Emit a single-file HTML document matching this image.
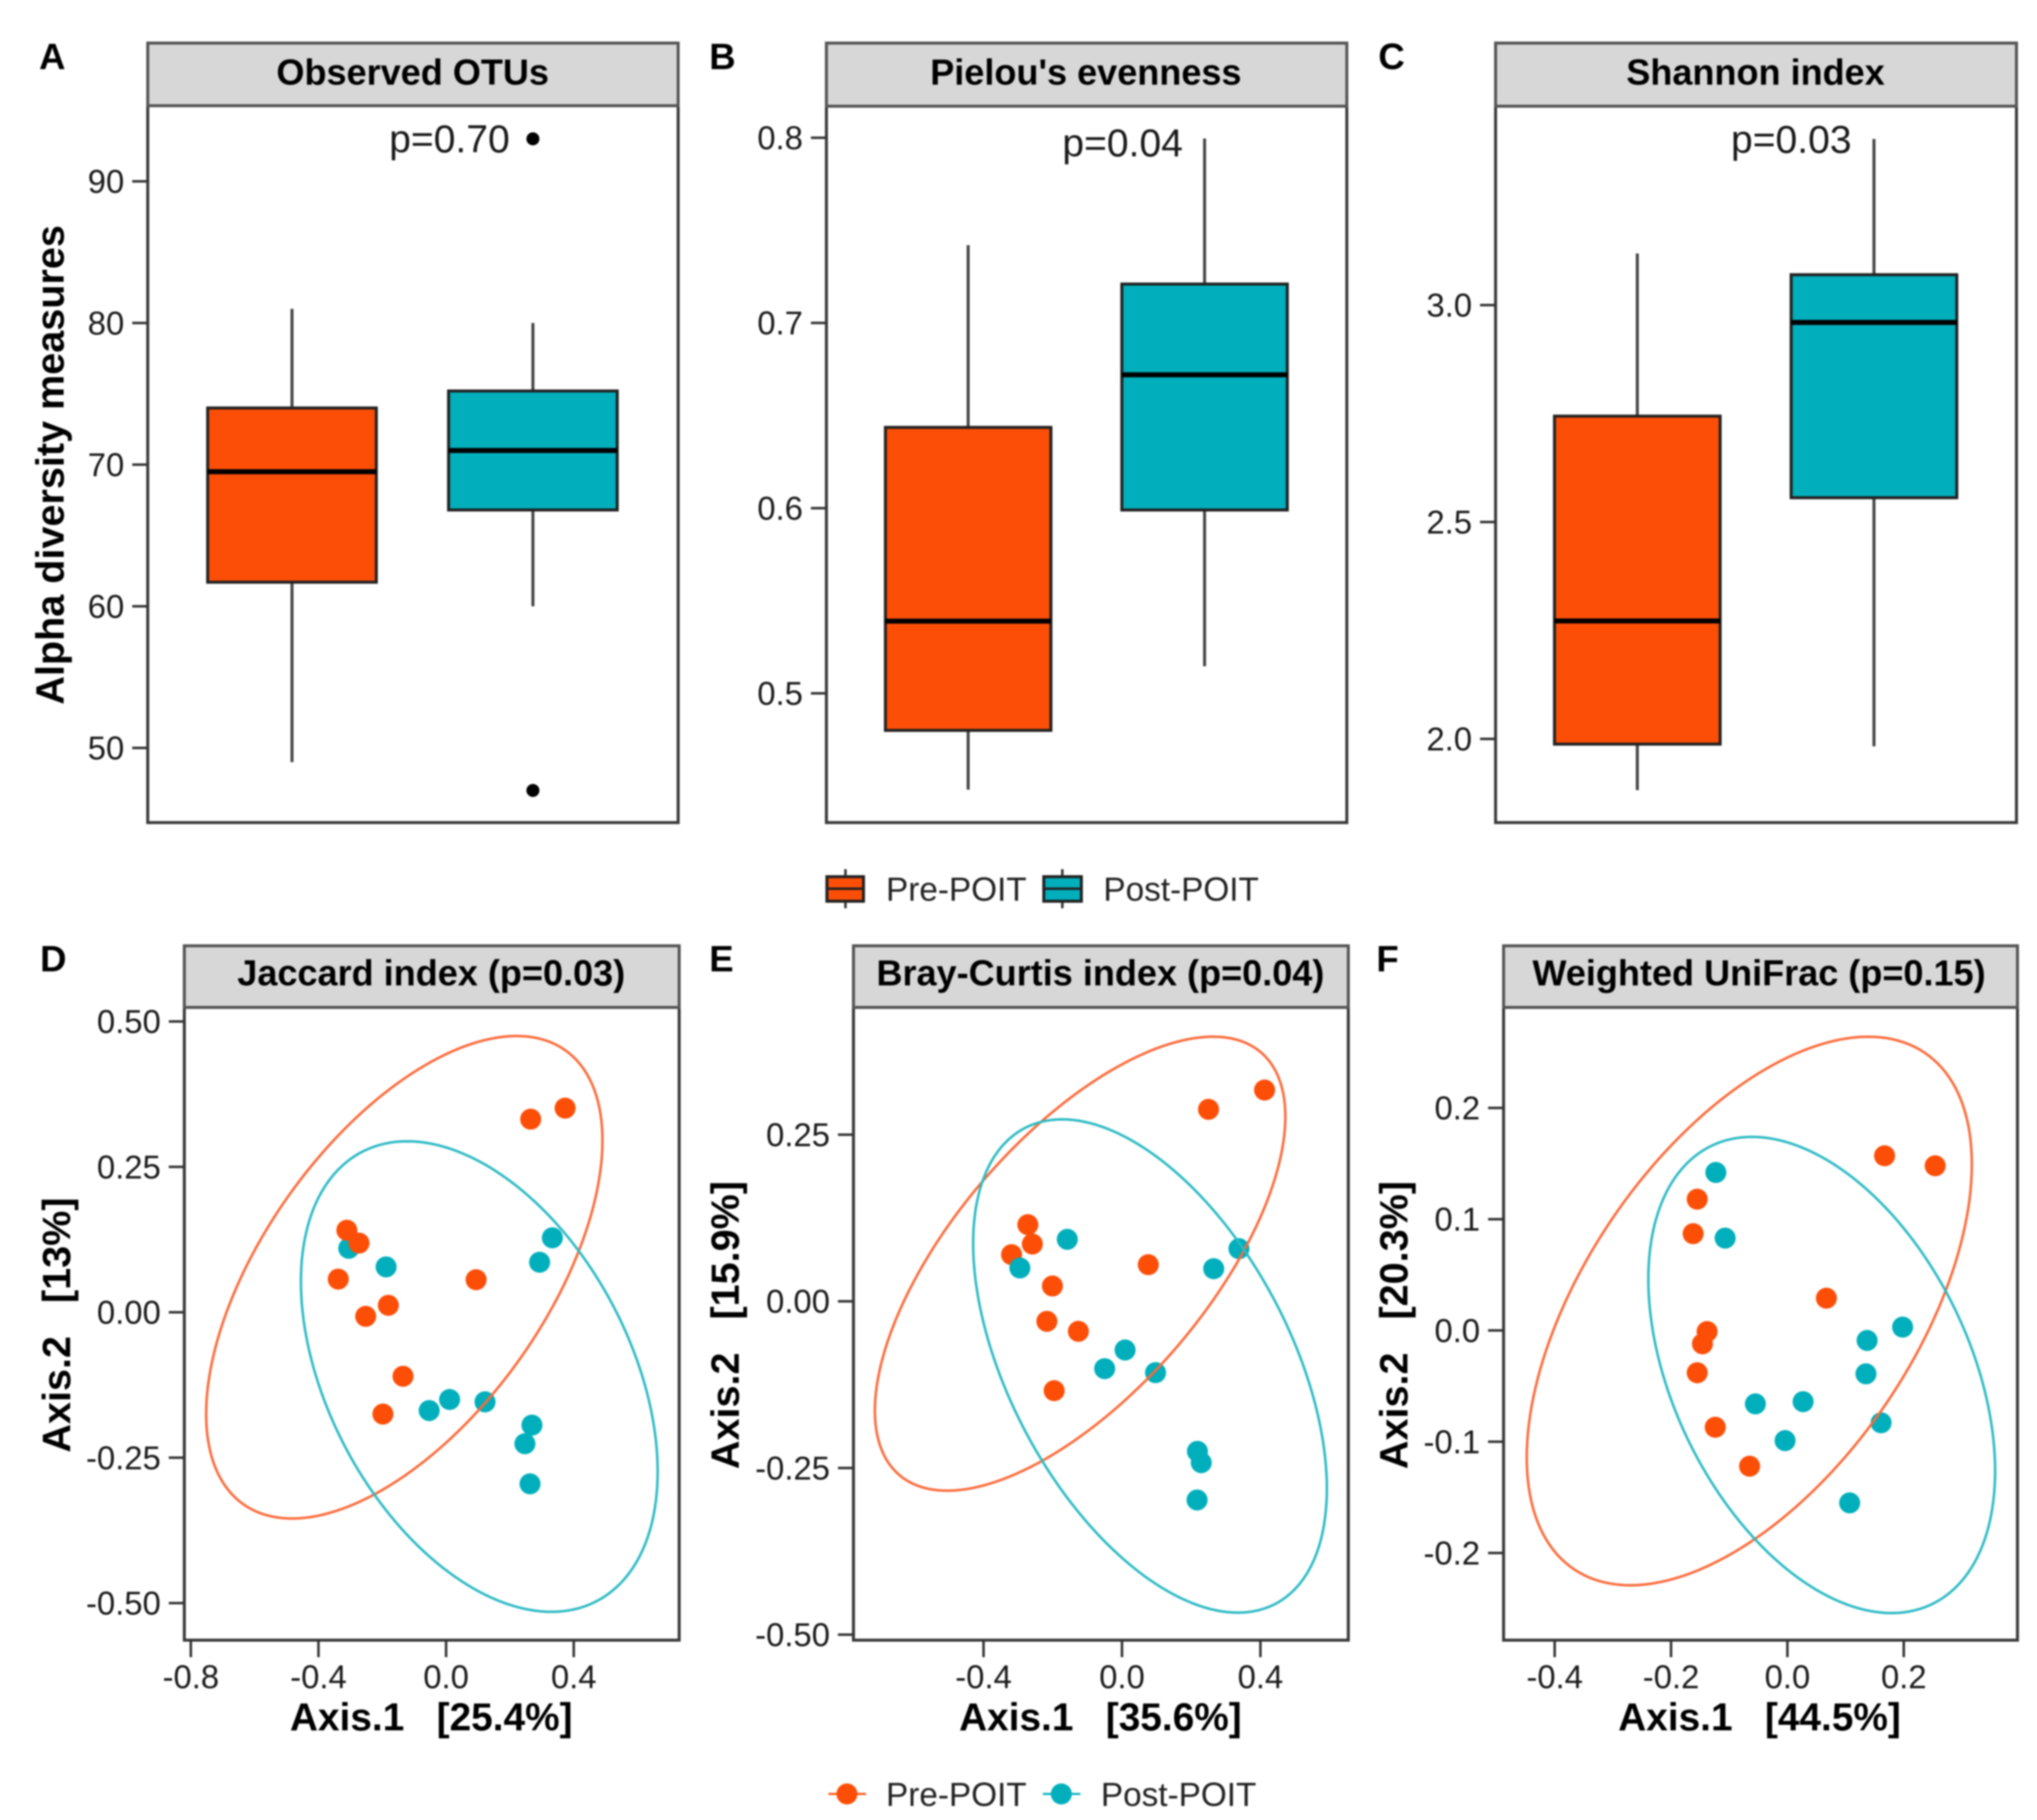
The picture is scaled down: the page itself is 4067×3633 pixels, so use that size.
<!DOCTYPE html>
<html lang="en">
<head>
<meta charset="utf-8">
<title>Alpha and beta diversity, Pre-POIT vs Post-POIT</title>
<style>
html,body{margin:0;padding:0;background:#fff;}
svg{display:block;filter:blur(1.5px);}
text{font-family:"Liberation Sans",sans-serif;fill:#1a1a1a;}
.bold{font-weight:bold;fill:#000;}
.strip{fill:#d7d7d7;stroke:#555;stroke-width:6;}
.frame{fill:#fff;stroke:#3a3a3a;stroke-width:6;}
.strip-text{font-size:72px;font-weight:bold;text-anchor:middle;fill:#000;}
.letter{font-size:73px;font-weight:bold;fill:#000;}
.ptext{font-size:78px;fill:#1a1a1a;}
.axis-title{font-size:77.5px;font-weight:bold;text-anchor:middle;fill:#000;}
.axis-title-y{font-size:79px;}
.legend-text{font-size:66.5px;fill:#222;}
</style>
</head>
<body>
<svg xmlns="http://www.w3.org/2000/svg" width="4067" height="3633" viewBox="0 0 4067 3633">
  <rect x="0" y="0" width="4067" height="3633" fill="#fff"/>

  <!-- Panel frames and strips -->
  <g>
    <rect class="frame" x="295" y="211" width="1059" height="1431"/>
    <rect class="strip" x="295" y="86" width="1059" height="125"/>
    <text class="strip-text" x="824" y="169">Observed OTUs</text>
    <text class="letter" x="78" y="138">A</text>
    <text class="axis-title axis-title-y" transform="translate(127,928) rotate(-90)">Alpha diversity measures</text>
    <g id="marks-a"></g>
    <text class="ptext" x="777" y="304">p=0.70</text>
  </g>

  <g>
    <rect class="frame" x="1650" y="212" width="1039" height="1430"/>
    <rect class="strip" x="1650" y="86" width="1039" height="126"/>
    <text class="strip-text" x="2168" y="169">Pielou's evenness</text>
    <text class="letter" x="1416" y="138">B</text>
    <g id="marks-b"></g>
    <text class="ptext" x="2121" y="312">p=0.04</text>
  </g>

  <g>
    <rect class="frame" x="2986" y="212" width="1040" height="1430"/>
    <rect class="strip" x="2986" y="86" width="1040" height="126"/>
    <text class="strip-text" x="3505" y="169">Shannon index</text>
    <text class="letter" x="2752" y="138">C</text>
    <g id="marks-c"></g>
    <text class="ptext" x="3456" y="305">p=0.03</text>
  </g>

  <g>
    <rect class="frame" x="368" y="2011" width="988" height="1263"/>
    <rect class="strip" x="368" y="1888" width="988" height="123"/>
    <text class="strip-text" x="861" y="1967">Jaccard index (p=0.03)</text>
    <text class="letter" x="80" y="1939">D</text>
    <text class="axis-title axis-title-y" transform="translate(140,2645) rotate(-90)">Axis.2&#160;&#160;&#160;[13%]</text>
    <text class="axis-title" x="861" y="3454">Axis.1&#160;&#160;&#160;[25.4%]</text>
    <g id="marks-d"></g>
  </g>

  <g>
    <rect class="frame" x="1704" y="2011" width="988" height="1263"/>
    <rect class="strip" x="1704" y="1888" width="988" height="123"/>
    <text class="strip-text" x="2197" y="1967">Bray-Curtis index (p=0.04)</text>
    <text class="letter" x="1416" y="1939">E</text>
    <text class="axis-title axis-title-y" transform="translate(1475,2645) rotate(-90)">Axis.2&#160;&#160;&#160;[15.9%]</text>
    <text class="axis-title" x="2197" y="3454">Axis.1&#160;&#160;&#160;[35.6%]</text>
    <g id="marks-e"></g>
  </g>

  <g>
    <rect class="frame" x="3002" y="2011" width="1026" height="1263"/>
    <rect class="strip" x="3002" y="1888" width="1026" height="123"/>
    <text class="strip-text" x="3512" y="1967">Weighted UniFrac (p=0.15)</text>
    <text class="letter" x="2748" y="1939">F</text>
    <text class="axis-title axis-title-y" transform="translate(2810,2645) rotate(-90)">Axis.2&#160;&#160;&#160;[20.3%]</text>
    <text class="axis-title" x="3513" y="3454">Axis.1&#160;&#160;&#160;[44.5%]</text>
    <g id="marks-f"></g>
  </g>

  <!-- Top legend -->
  <g>
    <g>
      <line x1="1688" y1="1735" x2="1688" y2="1813" stroke="#333" stroke-width="5"/>
      <rect x="1651" y="1750" width="73" height="49" fill="#FC4E07" stroke="#222" stroke-width="6"/>
      <line x1="1651" y1="1774" x2="1724" y2="1774" stroke="#222" stroke-width="5"/>
      <text class="legend-text" x="1769" y="1798">Pre-POIT</text>
    </g>
    <g>
      <line x1="2121" y1="1735" x2="2121" y2="1813" stroke="#333" stroke-width="5"/>
      <rect x="2084" y="1750" width="75" height="49" fill="#00AFBB" stroke="#222" stroke-width="6"/>
      <line x1="2084" y1="1774" x2="2159" y2="1774" stroke="#222" stroke-width="5"/>
      <text class="legend-text" x="2203" y="1798">Post-POIT</text>
    </g>
  </g>

  <!-- Bottom legend -->
  <g>
    <g>
      <line x1="1654" y1="3581" x2="1729" y2="3581" stroke="#FC4E07" stroke-width="4"/>
      <circle cx="1691" cy="3581" r="21" fill="#FC4E07"/>
      <text class="legend-text" x="1769" y="3605">Pre-POIT</text>
    </g>
    <g>
      <line x1="2082" y1="3581" x2="2157" y2="3581" stroke="#00AFBB" stroke-width="4"/>
      <circle cx="2119" cy="3581" r="21" fill="#00AFBB"/>
      <text class="legend-text" x="2198" y="3605">Post-POIT</text>
    </g>
  </g>
</svg>

<script>
// ---------- Box plot values: [whisker low, Q1, median, Q3, whisker high] ----------
const boxCategories = ['Pre-POIT', 'Post-POIT'];
const otuPre = [49, 61.7, 69.5, 74.0, 81];
const otuPost = [60, 66.8, 71, 75.2, 80];
const otuPostOutliers = [93, 47];
const otuTicks = [50, 60, 70, 80, 90];
const evennessPre = [0.448, 0.48, 0.539, 0.6436, 0.742];
const evennessPost = [0.5146, 0.599, 0.672, 0.721, 0.7996];
const evennessTicks = [0.5, 0.6, 0.7, 0.8];
const shannonPre = [1.882, 1.988, 2.272, 2.744, 3.119];
const shannonPost = [1.983, 2.556, 2.96, 3.07, 3.383];
const shannonTicks = [2.0, 2.5, 3.0];

// ---------- Jaccard ordination ----------
const jaccardPreX = [0.373, 0.265, -0.311, -0.273, -0.338, -0.181, -0.252, 0.094, -0.135, -0.198];
const jaccardPreY = [0.351, 0.332, 0.141, 0.119, 0.057, 0.012, -0.007, 0.056, -0.110, -0.175];
const jaccardPostX = [0.333, 0.293, -0.305, -0.188, 0.011, -0.053, 0.122, 0.269, 0.247, 0.263];
const jaccardPostY = [0.128, 0.086, 0.110, 0.078, -0.150, -0.169, -0.154, -0.194, -0.226, -0.295];
// ellipse values: [x min, x max, y min, y max, x at the top of the ellipse]
const jaccardPreEllipse = [-0.752, 0.490, -0.3546, 0.475, 0.221];
const jaccardPostEllipse = [-0.455, 0.663, -0.515, 0.294, -0.122];
const jaccardXTicks = [-0.8, -0.4, 0.0, 0.4];
const jaccardYTicks = [-0.50, -0.25, 0.00, 0.25, 0.50];

// ---------- Bray-Curtis ordination ----------
const brayPreX = [0.412, 0.250, -0.272, -0.259, -0.319, -0.201, 0.076, -0.217, -0.126, -0.196];
const brayPreY = [0.317, 0.288, 0.115, 0.086, 0.070, 0.023, 0.055, -0.030, -0.045, -0.134];
const brayPostX = [0.338, 0.265, -0.158, -0.295, 0.009, -0.050, 0.097, 0.218, 0.229, 0.217];
const brayPostY = [0.079, 0.049, 0.093, 0.050, -0.073, -0.101, -0.107, -0.225, -0.242, -0.298];
const brayPreEllipse = [-0.714, 0.472, -0.284, 0.397, 0.263];
const brayPostEllipse = [-0.430, 0.592, -0.467, 0.273, -0.173];
const brayXTicks = [-0.4, 0.0, 0.4];
const brayYTicks = [-0.50, -0.25, 0.00, 0.25];

// ---------- Weighted UniFrac ordination ----------
const unifracPreX = [0.167, 0.254, -0.155, -0.162, 0.067, -0.138, -0.146, -0.155, -0.124, -0.065];
const unifracPreY = [0.157, 0.148, 0.118, 0.087, 0.029, -0.001, -0.012, -0.038, -0.087, -0.122];
const unifracPostX = [-0.123, -0.107, 0.198, 0.137, 0.135, -0.055, 0.027, 0.161, -0.004, 0.107];
const unifracPostY = [0.142, 0.083, 0.003, -0.009, -0.039, -0.066, -0.064, -0.083, -0.099, -0.155];
const unifracPreEllipse = [-0.448, 0.317, -0.229, 0.264, 0.139];
const unifracPostEllipse = [-0.239, 0.357, -0.254, 0.174, -0.061];
const unifracXTicks = [-0.4, -0.2, 0.0, 0.2];
const unifracYTicks = [-0.2, -0.1, 0.0, 0.1, 0.2];

// ---------- Drawing ----------
const SVGNS = 'http://www.w3.org/2000/svg';
const preColor = '#FC4E07';
const postColor = '#00AFBB';
const preLine = '#FB6A3A';
const postLine = '#2DBAC4';

function mk(tag, attrs, parent) {
  const el = document.createElementNS(SVGNS, tag);
  for (const k in attrs) el.setAttribute(k, attrs[k]);
  parent.appendChild(el);
  return el;
}

function linear(v0, p0, v1, p1) {
  return function (v) { return p0 + (v - v0) * (p1 - p0) / (v1 - v0); };
}

function drawYAxis(g, ticks, yScale, left, digits) {
  ticks.forEach(function (t) {
    const y = yScale(t);
    const tick = mk('line', {x1: left - 31, x2: left, y1: y, y2: y, stroke: '#333', 'stroke-width': 5}, g);
    
    
    const label = mk('text', {x: left - 47, y: y + 23, 'text-anchor': 'end', 'font-size': 65.5}, g);
    label.textContent = t.toFixed(digits);
    
    
  });
}

function drawXAxis(g, ticks, xScale, bottom, digits) {
  ticks.forEach(function (t) {
    const x = xScale(t);
    const tick = mk('line', {x1: x, x2: x, y1: bottom, y2: bottom + 34, stroke: '#333', 'stroke-width': 5}, g);
    
    
    const label = mk('text', {x: x, y: bottom + 96, 'text-anchor': 'middle', 'font-size': 65.5}, g);
    label.textContent = t.toFixed(digits);
    
    
  });
}

function drawBox(g, stats, cx, halfWidth, yScale, color, category) {
  const whisker = mk('line', {x1: cx, x2: cx, y1: yScale(stats[0]), y2: yScale(stats[4]), stroke: '#444', 'stroke-width': 6}, g);
  
  
  const box = mk('rect', {x: cx - halfWidth, y: yScale(stats[3]), width: halfWidth * 2, height: yScale(stats[1]) - yScale(stats[3]), fill: color, stroke: '#222', 'stroke-width': 6}, g);
  
  
  const median = mk('line', {x1: cx - halfWidth, x2: cx + halfWidth, y1: yScale(stats[2]), y2: yScale(stats[2]), stroke: '#000', 'stroke-width': 10}, g);
  
  
}

function drawBoxPanel(id, pre, post, outliers, ticks, yScale, c1, c2, left, digits) {
  const g = document.getElementById(id);
  const step = c2 - c1;
  const xBand = function (i) { return c1 + i * step; };
  drawYAxis(g, ticks, yScale, left, digits);
  drawBox(g, pre, xBand(0), step * 0.35, yScale, preColor, boxCategories[0]);
  drawBox(g, post, xBand(1), step * 0.35, yScale, postColor, boxCategories[1]);
  outliers.forEach(function (v) {
    const dot = mk('circle', {cx: xBand(1), cy: yScale(v), r: 13, fill: '#000'}, g);
    
    
  });
}

function ellipsePath(e, xScale, yScale) {
  const cx = (e[0] + e[1]) / 2, rx = (e[1] - e[0]) / 2;
  const cy = (e[2] + e[3]) / 2, ry = (e[3] - e[2]) / 2;
  const phi = Math.acos((e[4] - cx) / rx);
  let d = '';
  for (let i = 0; i < 180; i++) {
    const t = i / 180 * 2 * Math.PI;
    const x = xScale(cx + rx * Math.cos(t));
    const y = yScale(cy + ry * Math.cos(t - phi));
    d += (i ? 'L' : 'M') + x.toFixed(1) + ' ' + y.toFixed(1);
  }
  return d + 'Z';
}

function drawPoints(g, xs, ys, xScale, yScale, color, group) {
  xs.forEach(function (v, i) {
    const dot = mk('circle', {cx: xScale(v), cy: yScale(ys[i]), r: 21, fill: color}, g);
    
    
  });
}

function drawEllipse(g, e, xScale, yScale, color, group) {
  const path = mk('path', {d: ellipsePath(e, xScale, yScale), fill: 'none', stroke: color, 'stroke-width': 5}, g);
  
  
}

function drawOrdination(id, s, xScale, yScale, left, bottom, xDigits, yDigits, postOnTop) {
  const g = document.getElementById(id);
  drawYAxis(g, s.yTicks, yScale, left, yDigits);
  drawXAxis(g, s.xTicks, xScale, bottom, xDigits);
  if (postOnTop) {
    drawPoints(g, s.preX, s.preY, xScale, yScale, preColor, 'pre');
    drawPoints(g, s.postX, s.postY, xScale, yScale, postColor, 'post');
  } else {
    drawPoints(g, s.postX, s.postY, xScale, yScale, postColor, 'post');
    drawPoints(g, s.preX, s.preY, xScale, yScale, preColor, 'pre');
  }
  drawEllipse(g, s.preEllipse, xScale, yScale, preLine, 'pre');
  drawEllipse(g, s.postEllipse, xScale, yScale, postLine, 'post');
}

drawBoxPanel('marks-a', otuPre, otuPost, otuPostOutliers, otuTicks, linear(50, 1493, 90, 362), 583, 1064, 295, 0);
drawBoxPanel('marks-b', evennessPre, evennessPost, [], evennessTicks, linear(0.5, 1384, 0.8, 275), 1933, 2405, 1650, 1);
drawBoxPanel('marks-c', shannonPre, shannonPost, [], shannonTicks, linear(2, 1475, 3, 609), 3269, 3741.5, 2986, 1);

drawOrdination('marks-d', {
  preX: jaccardPreX, preY: jaccardPreY, postX: jaccardPostX, postY: jaccardPostY,
  preEllipse: jaccardPreEllipse, postEllipse: jaccardPostEllipse,
  xTicks: jaccardXTicks, yTicks: jaccardYTicks
}, linear(-0.8, 381, 0.4, 1145.5), linear(-0.5, 3200, 0.5, 2039), 368, 3274, 1, 2, false);

drawOrdination('marks-e', {
  preX: brayPreX, preY: brayPreY, postX: brayPostX, postY: brayPostY,
  preEllipse: brayPreEllipse, postEllipse: brayPostEllipse,
  xTicks: brayXTicks, yTicks: brayYTicks
}, linear(-0.4, 1963.7, 0.4, 2516.5), linear(-0.5, 3263, 0.25, 2265), 1704, 3274, 1, 2, true);

drawOrdination('marks-f', {
  preX: unifracPreX, preY: unifracPreY, postX: unifracPostX, postY: unifracPostY,
  preEllipse: unifracPreEllipse, postEllipse: unifracPostEllipse,
  xTicks: unifracXTicks, yTicks: unifracYTicks
}, linear(-0.4, 3104, 0.2, 3801), linear(-0.2, 3100, 0.2, 2211.6), 3002, 3274, 1, 1, false);
</script>
</body>
</html>
